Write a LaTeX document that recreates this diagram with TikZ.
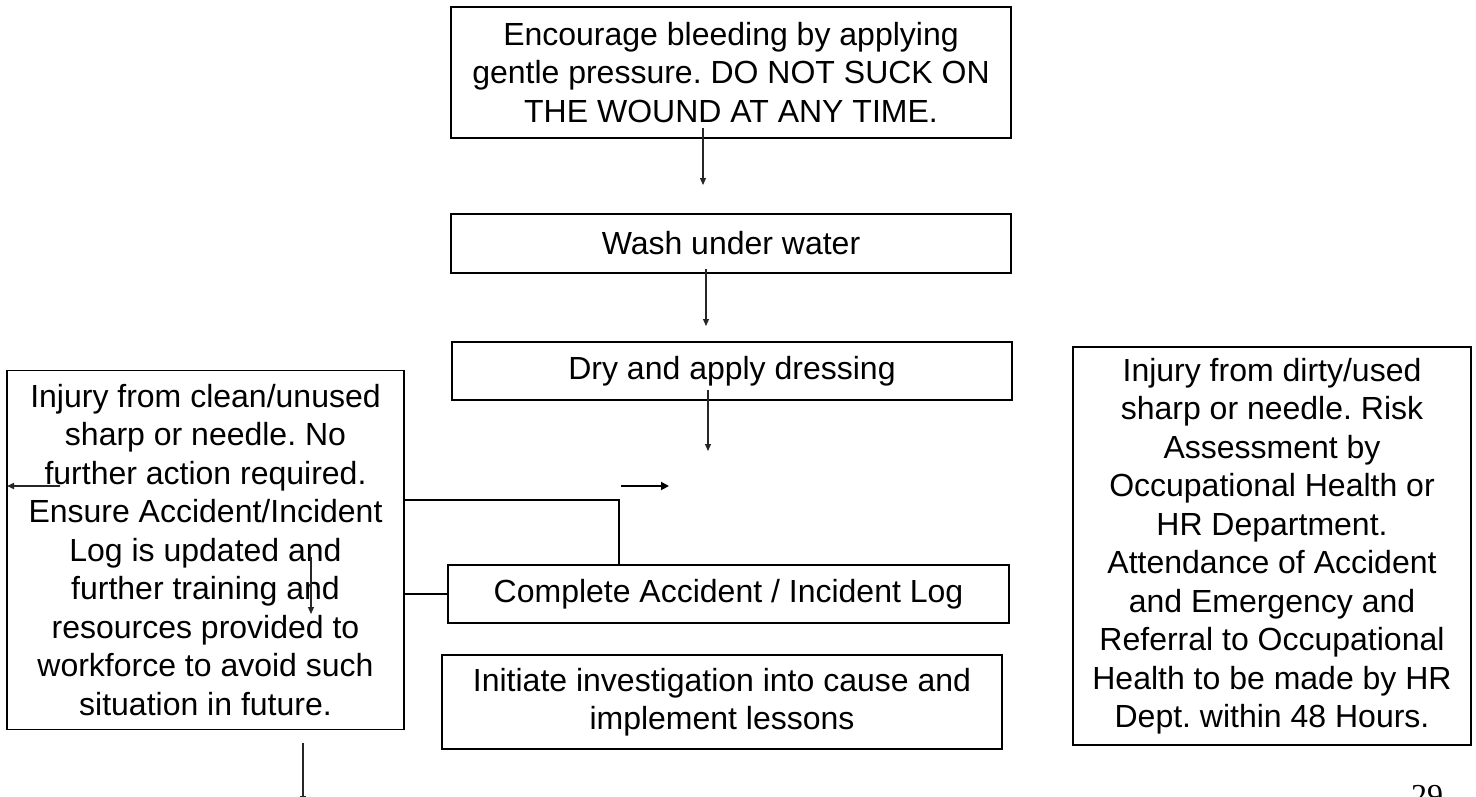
\documentclass[tikz,border=0pt]{standalone}
\usepackage{fontspec}
\setmainfont{Liberation Sans}
\newfontfamily\pagenumfont{Liberation Serif}
\usetikzlibrary{arrows.meta}
\frenchspacing
\begin{document}
\begin{tikzpicture}[x=1pt,y=-1pt,
  every node/.style={font=\fontsize{32}{38.5}\selectfont},
  flowbox/.style={draw=black, line width=1.5pt, rectangle, align=center, inner sep=0pt},
  conn/.style={draw=black, line width=1.5pt},
  arr/.style={draw=black!85, line width=1.1pt, -{Triangle[length=7pt,width=6pt]}},
  smallarr/.style={draw=black, line width=1.8pt, -{Triangle[length=8pt,width=8pt]}}]
\useasboundingbox (0,0) rectangle (1476,796);
\fill[white] (0,0) rectangle (1476,796);

% boxes
\node[flowbox, minimum width=560pt, minimum height=131pt] (enc) at (731,72.5)
  {Encourage bleeding by applying\\gentle pressure. DO NOT SUCK ON\\THE WOUND AT ANY TIME.};
\node[flowbox, minimum width=560pt, minimum height=59pt] (wash) at (731,243.5)
  {Wash under water};
\node[flowbox, minimum width=560pt, minimum height=58pt] (dry) at (732,371)
  {Dry and apply dressing};
\node[flowbox, minimum width=397pt, minimum height=359pt] (clean) at (205.5,550)
  {Injury from clean/unused\\sharp or needle. No\\further action required.\\Ensure Accident/Incident\\Log is updated and\\further training and\\resources provided to\\workforce to avoid such\\situation in future.};
\node[flowbox, minimum width=561pt, minimum height=58pt] (log) at (728.5,594)
  {Complete Accident / Incident Log};
\node[flowbox, minimum width=560pt, minimum height=94pt] (inv) at (722,702)
  {Initiate investigation into cause and\\implement lessons};
\node[flowbox, minimum width=398pt, minimum height=398pt] (dirty) at (1272,546)
  {Injury from dirty/used\\sharp or needle. Risk\\Assessment by\\Occupational Health or\\HR Department.\\Attendance of Accident\\and Emergency and\\Referral to Occupational\\Health to be made by HR\\Dept. within 48 Hours.};

% free arrow ends
\coordinate (a1s) at (703,128);  \coordinate (a1e) at (703,185);
\coordinate (a2s) at (706,269);  \coordinate (a2e) at (706,326);
\coordinate (a3s) at (708,390);  \coordinate (a3e) at (708,451);
\coordinate (hs) at (621,486);   \coordinate (he) at (669,486);
\coordinate (ls) at (60,486);    \coordinate (le) at (7,486);
\coordinate (ms) at (311,557);   \coordinate (me) at (311,614);
\coordinate (bs) at (303,743);   \coordinate (be) at (303,803);
\coordinate (c1) at (619,500);

\draw[arr] (a1s) -- (a1e);
\draw[arr] (a2s) -- (a2e);
\draw[arr] (a3s) -- (a3e);
\draw[smallarr] (hs) -- (he);
\draw[arr, line width=1.6pt] (ls) -- (le);
\draw[arr] (ms) -- (me);
\draw[arr] (bs) -- (be);

% connectors
\draw[conn] (clean.east |- c1) -- (c1) -- (c1 |- log.north);
\draw[conn] (clean.east |- log.west) -- (log.west);

% page number
\node[font=\pagenumfont\fontsize{32}{38}\selectfont, anchor=base, inner sep=0pt] (pnum) at (1427,806) {29};
\end{tikzpicture}
\end{document}
